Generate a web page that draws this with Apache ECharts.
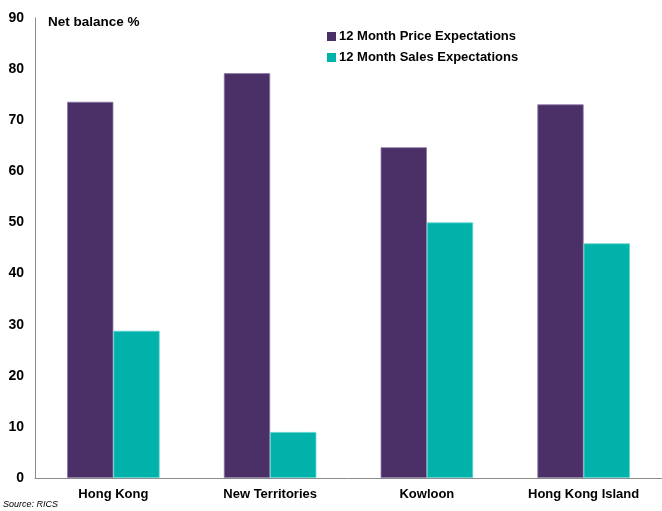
<!DOCTYPE html>
<html>
<head>
<meta charset="utf-8">
<script src="https://cdn.jsdelivr.net/npm/echarts@6/dist/echarts.min.js"></script>
<style>
  html, body { margin: 0; padding: 0; background: #fff; }
  #chart { width: 662px; height: 511px; }
</style>
</head>
<body>
<div id="chart"></div>
<script>
// Regions and net balance values (%)
const regions = ['Hong Kong', 'New Territories', 'Kowloon', 'Hong Kong Island'];
const priceExpectations = [73.6, 79.2, 64.7, 73.1];
const salesExpectations = [28.8, 9.0, 50.0, 45.9];
const seriesNames = ['12 Month Price Expectations', '12 Month Sales Expectations'];
const yTicks = { min: 0, max: 90, interval: 10 };

const FONT = 'Liberation Sans, Arial, sans-serif';
const PURPLE = '#4B2F67';
const TEAL = '#00B2AA';

const chart = echarts.init(document.getElementById('chart'), null, { renderer: 'canvas' });
chart.setOption({
  animation: false,
  backgroundColor: '#fff',
  grid: { left: 35, right: -1, top: 18, bottom: 33, containLabel: false },
  graphic: [
    {
      type: 'text', left: 48, top: 15,
      style: { text: 'Net balance %', font: 'bold 13.5px ' + FONT, fill: '#000' }
    },
    {
      type: 'text', left: 3, top: 500,
      style: { text: 'Source: RICS', font: 'italic 9px "Liberation Sans Narrow", ' + FONT, fill: '#000' }
    }
  ],
  legend: {
    orient: 'vertical',
    left: 322, top: 25,
    itemWidth: 9, itemHeight: 9, itemGap: 8,
    icon: 'rect',
    itemStyle: { borderWidth: 0 },
    textStyle: { fontFamily: FONT, fontWeight: 'bold', fontSize: 13, color: '#000', padding: [0, 0, 0, -2] },
    data: seriesNames
  },
  xAxis: {
    type: 'category',
    data: regions,
    axisLine: { lineStyle: { color: '#8c8c8c', width: 1 } },
    axisTick: { show: false },
    axisLabel: { fontFamily: FONT, fontWeight: 'bold', fontSize: 13, color: '#000', margin: 10 }
  },
  yAxis: {
    type: 'value',
    min: yTicks.min, max: yTicks.max, interval: yTicks.interval,
    axisLine: { show: true, lineStyle: { color: '#8c8c8c', width: 1 } },
    axisTick: { show: false },
    splitLine: { show: false },
    axisLabel: { fontFamily: FONT, fontWeight: 'bold', fontSize: 14, color: '#000', margin: 11 }
  },
  series: [
    {
      name: seriesNames[0], type: 'bar',
      data: priceExpectations,
      barGap: '0%', barCategoryGap: '41%',
      itemStyle: { color: PURPLE, borderColor: '#8a76a3', borderWidth: 0.8 }
    },
    {
      name: seriesNames[1], type: 'bar',
      data: salesExpectations,
      itemStyle: { color: TEAL, borderColor: '#5fd3cc', borderWidth: 0.8 }
    }
  ]
});
</script>
</body>
</html>
